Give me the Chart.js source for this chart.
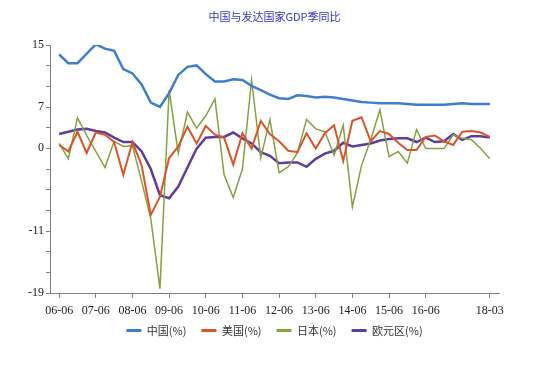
<!DOCTYPE html>
<html>
<head>
<meta charset="utf-8">
<script src="https://cdn.jsdelivr.net/npm/chart.js@4.4.1/dist/chart.umd.min.js"></script>
<style>
  html, body { margin: 0; padding: 0; background: #fff; }
  #wrap { width: 554px; height: 376px; }
</style>
</head>
<body>
<div id="wrap"><canvas id="gdpChart" width="554" height="376"></canvas></div>
<script>
// quarters 2006Q2 .. 2018Q1
const quarters = [
    '06-06', '06-09', '06-12', '07-03', '07-06', '07-09', '07-12', '08-03',
    '08-06', '08-09', '08-12', '09-03', '09-06', '09-09', '09-12', '10-03',
    '10-06', '10-09', '10-12', '11-03', '11-06', '11-09', '11-12', '12-03',
    '12-06', '12-09', '12-12', '13-03', '13-06', '13-09', '13-12', '14-03',
    '14-06', '14-09', '14-12', '15-03', '15-06', '15-09', '15-12', '16-03',
    '16-06', '16-09', '16-12', '17-03', '17-06', '17-09', '17-12', '18-03'
];
const xTickLabels = ['06-06', '07-06', '08-06', '09-06', '10-06', '11-06', '12-06',
    '13-06', '14-06', '15-06', '16-06', '18-03'];
const yTickLabels = {0: '15', 3: '7', 5: '0', 9: '-11', 12: '-19'};

const china = [13.7, 12.5, 12.5, 13.8, 15.1, 14.5, 14.2, 11.7, 11.1, 9.6, 7.1, 6.5,
    8.4, 10.9, 12.0, 12.2, 11.0, 10.0, 10.0, 10.3, 10.2, 9.4, 8.8, 8.2,
    7.7, 7.6, 8.1, 8.0, 7.8, 7.9, 7.8, 7.6, 7.4, 7.2, 7.1, 7.0,
    7.0, 7.0, 6.9, 6.8, 6.8, 6.8, 6.8, 6.9, 7.0, 6.9, 6.9, 6.9];
const usa = [1.3, 0.4, 3.1, 0.2, 3.0, 2.7, 1.7, -2.8, 1.7, -1.5, -8.3, -5.8,
    -0.5, 1.1, 3.8, 1.5, 3.9, 2.7, 2.3, -1.4, 2.9, 0.8, 4.6, 2.8,
    1.8, 0.5, 0.3, 2.9, 0.8, 2.9, 4.0, -0.9, 4.6, 5.1, 1.8, 3.2,
    2.8, 1.6, 0.6, 0.6, 2.4, 2.6, 1.8, 1.3, 3.1, 3.2, 3.0, 2.4];
const japan = [1.5, -0.6, 5.0, 2.6, 0.4, -1.8, 1.8, 1.1, 1.2, -3.7, -8.8, -18.4,
    8.8, 0.1, 5.8, 3.6, 5.3, 7.6, -2.8, -5.9, -2.0, 10.2, -0.5, 4.8,
    -2.5, -1.7, 0.2, 4.8, 3.5, 3.1, -0.1, 4.0, -7.2, -1.5, 2.0, 6.1,
    -0.3, 0.4, -1.2, 3.4, 0.8, 0.8, 0.8, 2.7, 2.2, 2.0, 0.8, -0.6];
const euro = [2.8, 3.1, 3.4, 3.5, 3.2, 3.0, 2.3, 1.7, 1.7, 0.4, -2.0, -5.6,
    -6.0, -4.4, -1.8, 0.8, 2.3, 2.4, 2.4, 3.0, 2.2, 1.5, 0.3, -0.2,
    -1.2, -1.1, -1.1, -1.7, -0.6, 0.1, 0.5, 1.6, 1.1, 1.3, 1.5, 1.9,
    2.1, 2.2, 2.2, 1.7, 2.3, 1.7, 1.8, 2.8, 2.0, 2.5, 2.5, 2.3];

const yMin = -19, yMax = 15, yParts = 12;

function points(values) {
    return values.map((v, i) => ({x: i, y: v}));
}

function series(label, values, color, width) {
    return {
        label: label,
        data: points(values),
        borderColor: color,
        backgroundColor: color,
        borderWidth: width,
        pointRadius: 0,
        tension: 0,
        fill: false
    };
}

// pull the legend up a bit, closer to the tick labels
const legendLift = {
    id: 'legendLift',
    afterLayout(chart) {
        if (!chart.legend) return;
        chart.legend.top -= 11;
        chart.legend.bottom -= 11;
    }
};

const axisColor = '#7f7f7f';
const tickFont = {family: '"Liberation Serif", serif', size: 12};

new Chart(document.getElementById('gdpChart').getContext('2d'), {
    type: 'line',
    data: {
        datasets: [
            series('中国(%)', china, '#3f7ecf', 2.5),
            series('美国(%)', usa, '#dc5427', 2),
            series('日本(%)', japan, '#86a13f', 1.5),
            series('欧元区(%)', euro, '#5d3e9e', 2.5)
        ]
    },
    plugins: [legendLift],
    options: {
        responsive: false,
        animation: false,
        layout: {padding: {top: 10, left: 0, right: 55, bottom: 19}},
        plugins: {
            title: {
                display: true,
                text: '中国与发达国家GDP季同比',
                color: '#3434d0',
                fullSize: false,
                font: {family: '"Noto Sans CJK SC", sans-serif', size: 11, weight: 'normal'},
                padding: {top: 0, bottom: 21.8}
            },
            legend: {
                position: 'bottom',
                fullSize: false,
                labels: {
                    boxWidth: 15,
                    boxHeight: 3,
                    padding: 15,
                    color: '#333',
                    font: {family: '"Noto Sans CJK SC", sans-serif', size: 11},
                    generateLabels: chart => Chart.defaults.plugins.legend.labels.generateLabels(chart)
                        .map(item => ({...item, lineWidth: 0}))
                }
            },
            tooltip: {enabled: false}
        },
        scales: {
            x: {
                type: 'linear',
                min: -1,
                max: 48,
                afterFit: scale => { scale.height = 28; },
                afterBuildTicks: scale => {
                    scale.ticks = xTickLabels.map(l => ({value: quarters.indexOf(l)}));
                },
                grid: {drawOnChartArea: false, tickLength: 5, color: axisColor},
                border: {color: axisColor, width: 1},
                ticks: {
                    autoSkip: false,
                    maxRotation: 0,
                    padding: 6,
                    color: '#222',
                    font: tickFont,
                    callback: value => quarters[value]
                }
            },
            y: {
                min: yMin,
                max: yMax,
                afterFit: scale => { scale.width = 50; },
                afterBuildTicks: scale => {
                    const ticks = [];
                    for (let k = 0; k <= yParts; k++) {
                        ticks.push({value: yMax - k * (yMax - yMin) / yParts});
                    }
                    scale.ticks = ticks;
                },
                grid: {drawOnChartArea: false, tickLength: 4, color: axisColor},
                border: {color: axisColor, width: 1},
                ticks: {
                    autoSkip: false,
                    padding: 2,
                    color: '#222',
                    font: tickFont,
                    callback: (value, index) => yTickLabels[index] || ''
                }
            }
        }
    }
});
</script>
</body>
</html>
